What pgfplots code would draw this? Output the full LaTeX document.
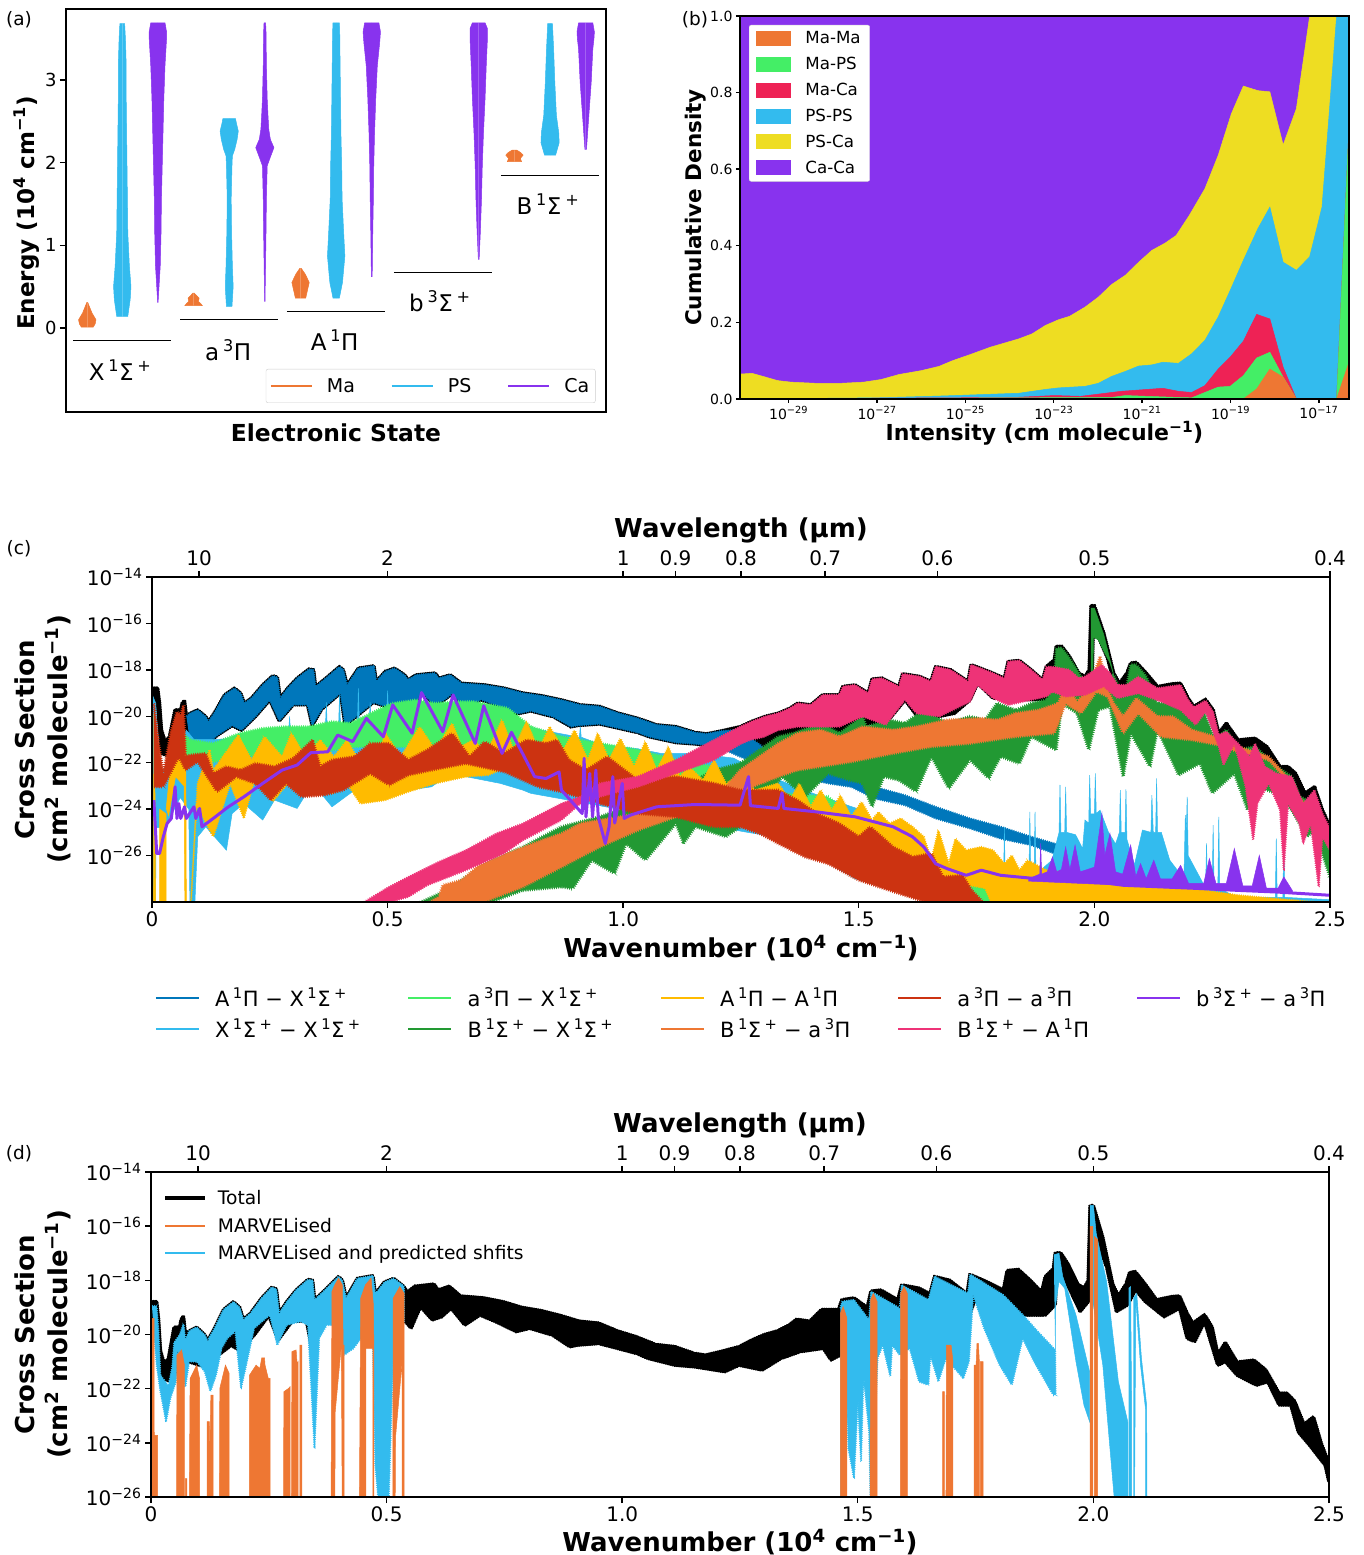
\documentclass[border=0pt]{standalone}
\usepackage{fontspec}
\setmainfont{DejaVu Sans}
\usepackage{pgfplots}
\usepackage{pgfplotstable}
\usetikzlibrary{decorations.pathmorphing}
\pgfplotsset{compat=1.18}
\definecolor{cOr}{HTML}{EE7733}
\definecolor{cLB}{HTML}{33BBEE}
\definecolor{cPu}{HTML}{8833EE}
\definecolor{cMag}{HTML}{EE3377}
\definecolor{cDB}{HTML}{0077BB}
\definecolor{cLG}{HTML}{44EE66}
\definecolor{cDG}{HTML}{229933}
\definecolor{cYe}{HTML}{FFBB00}
\definecolor{cRe}{HTML}{CC3311}
\definecolor{cY2}{HTML}{EEDD22}
\definecolor{cR2}{HTML}{EE2255}
\newcommand{\fs}[1]{\fontsize{#1}{#1}\selectfont}
\newcommand{\sq}[1]{\textsuperscript{#1}}
\pgfplotsset{
  table/lg/.style={row sep=\\,header=false,x index=0,y expr=10^(\thisrowno{1})},
  table/lx/.style={row sep=\\,header=false,x expr=10^(\thisrowno{0}),y index=1},
  band/.style={fill=#1,draw=#1,line width=0.5pt,forget plot},
  nb/.style 2 args={band=#1,decorate,decoration={zigzag,segment length=2.2pt,amplitude=#2}},
  base/.style={scale only axis,axis on top=true,axis line style={line width=2.2pt},
    tick style={black,line width=1.4pt},major tick length=6pt,tick align=outside,
    /pgf/number format/assume math mode=true,clip=true},
  specax/.style={base,width=1178pt,height=325pt,xmin=0,xmax=2.5,
    xtick={0,0.5,1,1.5,2,2.5},xticklabels={0,0.5,1.0,1.5,2.0,2.5},xticklabel style={font=\fs{20}},
    yticklabel style={font=\fs{20}},yminorticks=false,xtick pos=bottom,ytick pos=left,
    ylabel={\bfseries Cross Section\\\bfseries (cm\sq{2} molecule\sq{−1})},
    ylabel style={font=\fontsize{26}{33}\selectfont,align=center,anchor=center},xlabel style={font=\fs{26},anchor=center}},
  topax/.style={base,width=1178pt,height=325pt,xmin=0,xmax=2.5,ymin=0,ymax=1,axis x line*=top,axis y line=none,
    xtick={0.1,0.5,1,1.1111,1.25,1.4286,1.6667,2,2.5},xticklabels={10,2,1,0.9,0.8,0.7,0.6,0.5,0.4},
    xticklabel style={font=\fs{20},yshift=2pt},xlabel={\bfseries Wavelength (μm)},
    xlabel style={font=\fs{26},anchor=center,at={(axis description cs:0.5,1.142)}}},
  totalstyle/.style={fill=black,draw=black,line width=2.6pt,line join=round,forget plot,decorate,decoration={zigzag,segment length=2.2pt,amplitude=0.6pt}}
}
\newcommand{\violin}[3]{%
  \addplot[band=#2] table[row sep=\\,header=false,y index=0,x expr=#1+\thisrowno{1}/270.7]{#3};
  \addplot[band=#2] table[row sep=\\,header=false,y index=0,x expr=#1-\thisrowno{1}/270.7]{#3};
}
\pgfplotstableread[row sep=\\,header=false]{
0 -18.79\\ .012 -18.79\\ .016 -19.44\\ .02 -20.59\\ .028 -21.09\\ .037 -20.88\\ .049 -19.73\\ .061 -19.73\\ .064 -19.44\\ .069 -19.32\\ .073 -20.01\\ .081 -19.87\\ .097 -19.73\\ .114 -20.01\\ .12 -20.23\\ .134 -19.8\\ .154 -19.08\\ .175 -18.79\\ .188 -19\\ .196 -19.44\\ .211 -19.22\\ .235 -18.65\\ .256 -18.26\\ .266 -18.32\\ .272 -19.22\\ .288 -18.79\\ .308 -18.36\\ .333 -17.97\\ .343 -18\\ .347 -18.72\\ .365 -18.43\\ .398 -17.86\\ .406 -18\\ .414 -18.65\\ .438 -17.93\\ .471 -17.83\\ .476 -18.5\\ .495 -18.07\\ .515 -17.93\\ .536 -18.22\\ .544 -18.43\\ .56 -18.22\\ .601 -18.14\\ .609 -18.36\\ .633 -18.22\\ .657 -18.58\\ .706 -18.65\\ .747 -18.79\\ .787 -19\\ .828 -19.12\\ .869 -19.3\\ .909 -19.51\\ .95 -19.58\\ .99 -19.87\\ 1.031 -20.09\\ 1.071 -20.37\\ 1.112 -20.45\\ 1.153 -20.7\\ 1.177 -20.76\\ 1.209 -20.63\\ 1.248 -20.45\\
1.272 -20.23\\ 1.301 -20.01\\ 1.329 -19.87\\ 1.354 -19.65\\ 1.37 -19.44\\ 1.398 -19.51\\ 1.423 -19.08\\ 1.459 -19.08\\ 1.466 -18.72\\ 1.492 -18.65\\ 1.52 -19\\ 1.528 -18.4\\ 1.549 -18.36\\ 1.585 -18.72\\ 1.593 -18.17\\ 1.63 -18.29\\ 1.653 -18.5\\ 1.663 -17.86\\ 1.695 -18\\ 1.732 -18.5\\ 1.738 -17.78\\ 1.776 -18.07\\ 1.809 -18.36\\ 1.817 -17.64\\ 1.841 -17.6\\ 1.866 -18\\ 1.89 -18.43\\ 1.898 -17.86\\ 1.915 -17.57\\ 1.919 -16.99\\ 1.931 -16.99\\ 1.947 -17.42\\ 1.967 -18.14\\ 1.98 -18.29\\ 1.989 -18\\ 1.993 -15.24\\ 2.0 -15.24\\ 2.02 -16.42\\ 2.041 -18.14\\ 2.053 -18.58\\ 2.069 -18.14\\ 2.077 -17.71\\ 2.089 -17.68\\ 2.11 -18.14\\ 2.134 -18.72\\ 2.167 -18.6\\ 2.183 -18.58\\ 2.199 -19.22\\ 2.211 -19.58\\ 2.236 -19.27\\ 2.252 -19.73\\ 2.264 -20.73\\ 2.28 -20.3\\ 2.305 -21.02\\ 2.341 -20.95\\ 2.366 -21.31\\ 2.394 -22.17\\ 2.411 -22.17\\ 2.427 -22.46\\ 2.447 -23.32\\ 2.467 -23.04\\ 2.484 -24.04\\ 2.5 -24.76\\
2.5 -25.44\\ 2.492 -24.83\\ 2.459 -24.09\\ 2.435 -23.6\\ 2.419 -22.6\\ 2.394 -22.6\\ 2.37 -21.74\\ 2.346 -21.87\\ 2.305 -21.5\\ 2.28 -21\\ 2.264 -21.13\\ 2.236 -19.52\\ 2.215 -20.26\\ 2.199 -20.14\\ 2.183 -19.03\\ 2.15 -19.34\\ 2.11 -18.78\\ 2.089 -18.35\\ 2.073 -18.9\\ 2.049 -19.15\\ 2.028 -17.5\\ 2.008 -16.56\\ 1.997 -16.5\\ 1.995 -18.66\\ 1.972 -19.15\\ 1.935 -17.8\\ 1.922 -17.6\\ 1.919 -18.9\\ 1.898 -19.28\\ 1.854 -19.28\\ 1.817 -19.15\\ 1.785 -19.22\\ 1.752 -18.58\\ 1.736 -19.3\\ 1.703 -19.87\\ 1.671 -20\\ 1.622 -19.94\\ 1.598 -19.3\\ 1.555 -20.37\\ 1.524 -20.3\\ 1.467 -20.59\\ 1.463 -20.76\\ 1.443 -20.94\\ 1.427 -20.51\\ 1.378 -20.63\\ 1.337 -20.88\\ 1.297 -21.31\\ 1.248 -21.13\\
1.218 -21.37\\ 1.153 -21.19\\ 1.112 -21.13\\ 1.055 -20.88\\ 1.031 -20.7\\ .99 -20.51\\ .95 -20.33\\ .905 -20.39\\ .889 -20.45\\ .852 -20.02\\ .804 -19.77\\ .775 -19.89\\ .731 -19.52\\ .698 -19.28\\ .666 -19.65\\ .637 -19.03\\ .617 -19.34\\ .597 -19.46\\ .572 -18.97\\ .552 -19.77\\ .54 -19.52\\ .5 -19.6\\ .47 -19.4\\ .44 -19.9\\ .41 -20.4\\ .40 -19\\ .36 -19.7\\ .34 -20.4\\ .33 -19.5\\ .3 -19.5\\ .27 -20.2\\ .25 -19.3\\ .22 -20\\ .19 -20.6\\ .17 -20.4\\ .14 -20.8\\ .115 -21.2\\ .08 -21\\ .07 -20.9\\ .06 -20.9\\ .05 -21.5\\ .035 -21.7\\ .02 -21.6\\ .012 -19.6\\ 0 -19.6\\
}\TotalBand
\begin{document}
\begin{tikzpicture}[x=1pt,y=1pt]
\path[use as bounding box] (0,0) rectangle (1363,1555);
% ---------- panel a
\begin{axis}[base,at={(66pt,1143pt)},anchor=south west,width=540pt,height=403pt,
  xmin=-0.526,xmax=4.523,ymin=-1.016,ymax=3.857,xtick=\empty,ytick={0,1,2,3},
  yticklabel style={font=\fs{18}},ytick pos=left,
  xlabel={\bfseries Electronic State},xlabel style={font=\fs{23.4},anchor=center,at={(axis description cs:0.5,-0.052)}},
  ylabel={\bfseries Energy (10\sq{4} cm\sq{−1})},ylabel style={font=\fs{23},anchor=center,at={(axis description cs:-0.0722,0.494)}},
  legend columns=3,legend cell align=left,
  legend image code/.code={\draw[#1,line width=1.5pt] (0pt,0pt)--(41pt,0pt);\path (54pt,0pt);},
  legend style={at={(axis description cs:0.37,0.1067)},anchor=north west,draw=black!20,rounded corners=2pt,font=\fs{19},
    inner xsep=4pt,inner ysep=7pt,/tikz/every even column/.append style={column sep=34pt}}]
\violin{-0.327}{cOr}{0.01 0\\0.01 15\\0.05 20\\0.1 22\\0.18 12\\0.31 1\\0.31 0\\}
\violin{0}{cLB}{0.14 0\\0.14 14\\0.34 20\\0.5 22\\0.75 18\\1.15 14\\1.56 13\\1.96 12\\2.36 11\\2.77 10\\3.17 10\\3.5 8\\3.68 6\\3.68 0\\}
\violin{0.333}{cPu}{0.31 0\\0.31 0.5\\0.75 6\\1.15 8\\1.56 9\\1.96 11\\2.36 13\\2.77 15\\3.17 18\\3.5 22\\3.58 22\\3.69 18\\3.69 0\\}
\violin{0.667}{cOr}{0.27 0\\0.27 22\\0.295 18\\0.32 12\\0.36 14\\0.42 2\\0.42 0\\}
\violin{1}{cLB}{0.26 0\\0.26 7\\0.5 10\\0.75 8\\1.15 6\\1.56 5\\1.96 7\\2.08 8\\2.16 14\\2.28 20\\2.38 23\\2.48 18\\2.53 16\\2.53 0\\}
\violin{1.333}{cPu}{0.32 0\\0.32 0.5\\1.15 3\\1.56 4\\1.96 6\\2.04 12\\2.18 23\\2.28 14\\2.4 10\\2.57 8\\2.77 6\\3.17 4\\3.58 3\\3.69 2\\3.69 0\\}
\violin{1.667}{cOr}{0.36 0\\0.36 13\\0.55 22\\0.65 12\\0.72 2\\0.72 0\\}
\violin{2}{cLB}{0.36 0\\0.36 8\\0.55 16\\0.87 22\\1.15 19\\1.56 15\\1.96 14\\2.36 12\\2.77 11\\3.17 10\\3.58 9\\3.69 8\\3.69 0\\}
\violin{2.333}{cPu}{0.62 0\\0.62 1\\1.15 2.5\\1.56 4\\1.96 5\\2.36 7\\2.77 10\\3.17 14\\3.45 20\\3.58 22\\3.69 18\\3.69 0\\}
\violin{3.333}{cPu}{0.83 0\\0.83 1\\1.15 4\\1.56 7\\1.96 9\\2.36 12\\2.77 16\\3.17 19\\3.5 22\\3.62 22\\3.69 16\\3.69 0\\}
\violin{3.667}{cOr}{2.01 0\\2.01 18\\2.05 15\\2.09 22\\2.12 16\\2.15 6\\2.15 0\\}
\violin{4}{cLB}{2.09 0\\2.09 14\\2.24 23\\2.36 22\\2.57 16\\2.97 12\\3.37 9\\3.68 6\\3.68 0\\}
\violin{4.333}{cPu}{2.16 0\\2.16 2\\2.57 8\\2.97 14\\3.37 18\\3.5 21\\3.58 22\\3.69 18\\3.69 0\\}
\addplot[black,line width=1.2pt,forget plot] coordinates {(-0.46,-0.15)(0.46,-0.15)};
\addplot[black,line width=1.2pt,forget plot] coordinates {(0.54,0.10)(1.46,0.10)};
\addplot[black,line width=1.2pt,forget plot] coordinates {(1.54,0.20)(2.46,0.20)};
\addplot[black,line width=1.2pt,forget plot] coordinates {(2.54,0.67)(3.46,0.67)};
\addplot[black,line width=1.2pt,forget plot] coordinates {(3.54,1.84)(4.46,1.84)};
\node[font=\fs{23}] at (axis cs:-0.02,-0.51) {X\,\sq{1}Σ\,\sq{+}};
\node[font=\fs{23}] at (axis cs:0.99,-0.266) {a\,\sq{3}Π};
\node[font=\fs{23}] at (axis cs:1.985,-0.15) {A\,\sq{1}Π};
\node[font=\fs{23}] at (axis cs:2.97,0.32) {b\,\sq{3}Σ\,\sq{+}};
\node[font=\fs{23}] at (axis cs:3.98,1.50) {B\,\sq{1}Σ\,\sq{+}};
\addlegendimage{draw=cOr}\addlegendentry{Ma}
\addlegendimage{draw=cLB}\addlegendentry{PS}
\addlegendimage{draw=cPu}\addlegendentry{Ca\hspace{7pt}}
\end{axis}
% ---------- panel b
\begin{axis}[base,at={(740pt,1156pt)},anchor=south west,width=609pt,height=383pt,
  xmode=log,xmin=7.94e-31,xmax=4.79e-17,ymin=0,ymax=1,xminorticks=false,
  xtick={1e-29,1e-27,1e-25,1e-23,1e-21,1e-19,1e-17},
  xticklabels={10\sq{−29},10\sq{−27},10\sq{−25},10\sq{−23},10\sq{−21},10\sq{−19},10\sq{−17}},
  ytick={0,0.2,0.4,0.6,0.8,1},yticklabels={0.0,0.2,0.4,0.6,0.8,1.0},
  ticklabel style={font=\fs{14}},xtick pos=bottom,ytick pos=left,major tick length=4pt,
  xlabel={\bfseries Intensity (cm molecule\sq{−1})},xlabel style={font=\fs{22},anchor=center,at={(axis description cs:0.5,-0.089)}},
  ylabel={\bfseries Cumulative Density},ylabel style={font=\fs{21.5},anchor=center,at={(axis description cs:-0.0722,0.5)}},
  legend cell align=left,
  legend image code/.code={\fill[sharp corners,draw=none,#1] (0pt,-7.5pt) rectangle (35pt,7.5pt);\path (47pt,0pt);},
  legend style={at={(axis description cs:0.0148,0.9765)},anchor=north west,draw=black!15,rounded corners=2pt,font=\fs{16.7},
    inner xsep=7pt,inner ysep=4.5pt,row sep=8pt}]
\addplot[band=cPu] table[lx]{-30.1 0\\-30.1 1\\-16.32 1\\-16.32 0\\};
\addplot[band=cY2] table[lx]{-30.1 0\\-30.1 .065\\-29.83 .067\\-29.55 .058\\-29.25 .048\\-28.95 .044\\-28.4 .041\\-27.8 .041\\-27.3 .044\\-26.9 .051\\-26.5 .064\\-26 .074\\-25.6 .085\\-25.29 .1\\-24.89 .116\\-24.44 .135\\-23.79 .157\\-23.49 .17\\-23.19 .192\\-22.89 .207\\-22.64 .216\\-22.29 .24\\-21.99 .266\\-21.69 .299\\-21.38 .323\\-21.08 .357\\-20.78 .388\\-20.48 .407\\-20.23 .427\\-19.93 .48\\-19.58 .549\\-19.28 .636\\-18.98 .745\\-18.71 .817\\-18.38 .805\\-18.11 .802\\-17.81 .663\\-17.51 .758\\-17.21 1\\-16.32 1\\-16.32 0\\};
\addplot[band=cLB] table[lx]{-30.1 0\\-27 .003\\-25.49 .008\\-23.79 .015\\-23.19 .025\\-22.89 .029\\-22.29 .033\\-21.99 .041\\-21.69 .059\\-21.38 .072\\-21.08 .086\\-20.78 .089\\-20.53 .096\\-20.18 .093\\-19.88 .118\\-19.58 .153\\-19.28 .214\\-19.01 .283\\-18.71 .362\\-18.38 .445\\-18.11 .501\\-17.81 .357\\-17.51 .336\\-17.21 .371\\-16.93 .501\\-16.6 1\\-16.32 1\\-16.32 0\\};
\addplot[band=cR2] table[lx]{-30.1 0\\-23.89 .004\\-22.99 .009\\-22.39 .007\\-21.48 .02\\-20.53 .028\\-20.18 .02\\-19.88 .017\\-19.58 .035\\-19.28 .078\\-19.01 .109\\-18.71 .151\\-18.41 .221\\-18.11 .209\\-17.81 .083\\-17.51 0\\-16.6 0\\-16.32 .71\\-16.32 0\\};
\addplot[band=cLG] table[lx]{-30.1 0\\-21.69 .004\\-21.38 .009\\-20.18 .004\\-19.88 .003\\-19.58 .017\\-19.28 .031\\-19.01 .033\\-18.71 .061\\-18.41 .107\\-18.11 .122\\-17.81 .057\\-17.51 0\\-16.6 0\\-16.32 .71\\-16.32 0\\};
\addplot[band=cOr] table[lx]{-30.1 0\\-18.71 0\\-18.41 .026\\-18.11 .078\\-17.81 .057\\-17.51 0\\-16.6 0\\-16.32 .096\\-16.32 0\\};
\addlegendimage{fill=cOr}\addlegendentry{Ma-Ma}
\addlegendimage{fill=cLG}\addlegendentry{Ma-PS}
\addlegendimage{fill=cR2}\addlegendentry{Ma-Ca}
\addlegendimage{fill=cLB}\addlegendentry{PS-PS}
\addlegendimage{fill=cY2}\addlegendentry{PS-Ca}
\addlegendimage{fill=cPu}\addlegendentry{Ca-Ca}
\end{axis}
% ---------- panel c
\begin{axis}[specax,ymode=log,at={(152pt,653pt)},anchor=south west,ymin=1e-28,ymax=1e-14,
  xlabel={\bfseries Wavenumber (10\sq{4} cm\sq{−1})},
  ytick={1e-14,1e-16,1e-18,1e-20,1e-22,1e-24,1e-26},
  yticklabels={10\sq{−14},10\sq{−16},10\sq{−18},10\sq{−20},10\sq{−22},10\sq{−24},10\sq{−26}},
  xlabel style={at={(axis description cs:0.5,-0.1415)}},ylabel style={at={(axis description cs:-0.0925,0.5)}},
  legend columns=5,legend cell align=left,
  legend image code/.code={\draw[#1,line width=1.5pt] (0pt,0pt)--(43pt,0pt);\path (57pt,0pt);},
  legend style={at={(axis description cs:0.0025,-0.261)},anchor=north west,draw=none,fill=none,font=\fs{21},
    inner xsep=0pt,inner ysep=0pt,nodes={inner ysep=1pt},row sep=9pt,/tikz/every even column/.append style={column sep=45pt}}]
\addplot[totalstyle] table[lg]{\TotalBand};
% A-X
\addplot[nb={cDB}{0.8pt}] table[lg]{.073 -20.01\\ .081 -19.87\\ .097 -19.73\\ .114 -20.01\\ .12 -20.23\\ .134 -19.8\\ .154 -19.08\\ .175 -18.79\\ .188 -19\\ .196 -19.44\\ .211 -19.22\\ .235 -18.65\\ .256 -18.26\\ .266 -18.32\\ .272 -19.22\\ .288 -18.79\\ .308 -18.36\\ .333 -17.97\\ .343 -18\\ .347 -18.72\\ .365 -18.43\\ .398 -17.86\\ .406 -18\\ .414 -18.65\\ .438 -17.93\\ .471 -17.83\\ .476 -18.5\\ .495 -18.07\\ .515 -17.93\\ .536 -18.22\\ .544 -18.43\\ .56 -18.22\\ .601 -18.14\\ .609 -18.36\\ .633 -18.22\\ .657 -18.58\\ .706 -18.65\\ .747 -18.79\\ .787 -19\\ .828 -19.12\\ .869 -19.3\\ .909 -19.51\\ .95 -19.58\\ .99 -19.87\\ 1.031 -20.09\\ 1.071 -20.37\\ 1.112 -20.45\\ 1.153 -20.7\\ 1.177 -20.76\\ 1.209 -20.63\\ 1.248 -20.59\\ 1.305 -21.45\\ 1.402 -22.32\\ 1.435 -22.46\\ 1.484 -22.68\\ 1.533 -23.04\\ 1.598 -23.4\\ 1.663 -23.9\\ 1.736 -24.4\\ 1.801 -24.76\\ 1.866 -25.19\\ 1.915 -25.48\\ 1.972 -25.91\\ 2.061 -26.63\\ 2.142 -27.5\\ 2.224 -27.9\\ 2.224 -28.2\\ 2.142 -27.93\\ 2.061 -26.85\\ 1.972 -26.27\\ 1.915 -25.91\\ 1.866 -25.55\\ 1.801 -25.27\\ 1.736 -24.83\\ 1.663 -24.4\\ 1.598 -23.83\\ 1.533 -23.54\\ 1.484 -23.04\\ 1.435 -22.89\\ 1.402 -22.75\\ 1.305 -22.17\\ 1.248 -21.74\\ 1.2 -21.3\\ 1.153 -21.19\\ 1.112 -21.13\\ 1.055 -20.88\\ 1.031 -20.7\\ .99 -20.51\\ .95 -20.33\\ .905 -20.39\\ .889 -20.45\\ .852 -20.02\\ .804 -19.77\\ .775 -19.89\\ .731 -19.52\\ .698 -19.28\\ .666 -19.65\\ .637 -19.03\\ .617 -19.34\\ .597 -19.46\\ .572 -18.97\\ .552 -19.77\\ .54 -19.52\\ .5 -19.6\\ .47 -19.4\\ .44 -19.9\\ .41 -20.4\\ .40 -19\\ .36 -19.7\\ .34 -20.4\\ .33 -19.5\\ .3 -19.5\\ .27 -20.2\\ .25 -19.3\\ .22 -20\\ .19 -20.6\\ .17 -20.4\\ .14 -20.8\\ .115 -21.2\\ .08 -21\\};
% X-X
\addplot[band=cLB] table[lg]{0 -19.04\\ .008 -19.44\\ .016 -22.32\\ .024 -22.32\\ .057 -21.02\\ .073 -20.6\\ .089 -21\\ .138 -21\\ .195 -20.9\\ .235 -20.7\\ .29 -20.7\\ .292 -20\\ .294 -20.7\\ .33 -20.6\\ .368 -20.5\\ .37 -19.4\\ .372 -20.5\\ .396 -20.4\\ .398 -19.1\\ .4 -20.4\\ .436 -20.3\\ .438 -18.8\\ .44 -20.3\\ .461 -20.2\\ .463 -19.4\\ .465 -20.2\\ .498 -20\\ .5 -18.9\\ .502 -20\\ .54 -20\\ .6 -19.9\\ .68 -20\\ .755 -20.2\\ .828 -20.6\\ .907 -20.9\\ .909 -20.45\\ .911 -20.9\\ .95 -21.2\\ 1.031 -21.4\\ 1.08 -21.6\\ 1.153 -21.6\\ 1.234 -21.8\\ 1.3 -22.5\\ 1.4 -23.3\\ 1.5 -24\\ 1.55 -25\\ 1.55 -26\\ 1.7 -27.6\\ 1.8 -27.6\\ 1.807 -27.4\\ 1.809 -24.76\\ 1.811 -27.4\\ 1.83 -27\\ 1.861 -27\\ 1.863 -24.12\\ 1.865 -27\\ 1.872 -27\\ 1.874 -24.12\\ 1.876 -26.8\\ 1.91 -26.2\\ 1.925 -25\\ 1.927 -22.96\\ 1.929 -25\\ 1.937 -25\\ 1.939 -23.04\\ 1.941 -25\\ 1.96 -25.1\\ 1.975 -25.7\\ 1.98 -24.47\\ 1.988 -24.6\\ 1.99 -22.53\\ 1.992 -24.2\\ 2.0 -24.2\\ 2.002 -22.46\\ 2.004 -24.2\\ 2.012 -24.04\\ 2.03 -25\\ 2.045 -25.5\\ 2.053 -25\\ 2.055 -23.18\\ 2.057 -25\\ 2.065 -25\\ 2.067 -23.15\\ 2.069 -25.3\\ 2.085 -26.4\\ 2.102 -24.9\\ 2.12 -25\\ 2.122 -23.4\\ 2.125 -25\\ 2.13 -25\\ 2.132 -22.68\\ 2.134 -25\\ 2.142 -25\\ 2.16 -26.2\\ 2.19 -27\\ 2.193 -24.26\\ 2.195 -25\\ 2.197 -23.47\\ 2.199 -26\\ 2.236 -27.4\\ 2.238 -25.48\\ 2.24 -27.4\\ 2.25 -27.4\\ 2.252 -24.69\\ 2.254 -27.4\\ 2.262 -27.4\\ 2.264 -24.33\\ 2.266 -27.4\\ 2.3 -27.8\\ 2.384 -27.8\\ 2.386 -25.27\\ 2.388 -27.8\\ 2.4 -27.8\\ 2.402 -25.19\\ 2.404 -27.8\\ 2.5 -27.9\\ 2.5 -29\\ 1.663 -29\\ 1.663 -28\\ 1.492 -27\\ 1.402 -25.91\\ 1.354 -25.3\\ 1.264 -25\\ .804 -23.32\\ .787 -23.18\\ .739 -22.89\\ .666 -22.6\\ .625 -22.6\\ .593 -23.04\\ .544 -23.18\\ .495 -23.18\\ .43 -23.18\\ .382 -23.9\\ .341 -22.89\\ .308 -23.97\\ .26 -23.61\\ .235 -24.47\\ .195 -23.76\\ .17 -24.19\\ .158 -25.77\\ .114 -24.76\\ .097 -25.19\\ .089 -29\\ .081 -29\\ .078 -24\\ .06 -23.5\\ .03 -24.7\\ .016 -24.8\\ .009 -24.8\\ .007 -29\\ 0 -29\\};
% a-X
\addplot[nb={cLG}{1.2pt}] table[lg]{.032 -21.88\\ .057 -20.59\\ .081 -21.02\\ .13 -21.17\\ .187 -20.73\\ .235 -20.52\\ .284 -20.45\\ .333 -20.45\\ .382 -20.23\\ .422 -20.3\\ .479 -19.73\\ .511 -19.44\\ .56 -19.3\\ .601 -19.44\\ .649 -19.37\\ .682 -19.37\\ .755 -19.65\\ .804 -20.45\\ .869 -20.88\\ .95 -21.17\\ 1.031 -21.45\\ 1.112 -21.88\\ 1.193 -22.17\\ 1.248 -22.6\\ 1.329 -23.32\\ 1.435 -23.47\\ 1.533 -25.19\\ 1.614 -25.48\\ 1.671 -26.35\\ 1.736 -26.92\\ 1.776 -27.5\\ 1.817 -28.1\\ 1.736 -28.1\\ 1.671 -27.5\\ 1.622 -26.78\\ 1.557 -26.2\\ 1.476 -25.99\\ 1.411 -25.34\\ 1.329 -25.05\\ 1.248 -24.33\\ 1.193 -23.18\\ 1.112 -22.89\\ 1.031 -22.46\\ .95 -22.32\\ .828 -22.17\\ .755 -21.45\\ .682 -21.53\\ .649 -21.45\\ .544 -21.31\\ .495 -21.31\\ .43 -21.31\\ .382 -21.45\\ .3 -21.88\\ .235 -21.67\\ .187 -21.74\\ .13 -21.96\\ .081 -21.74\\ .057 -22.17\\ .032 -22.6\\};
% B-X
\addplot[nb={cDG}{1.3pt}] table[lg]{.56 -28.1\\ .625 -27.5\\ .706 -26.35\\ .787 -25.63\\ .869 -24.76\\ .95 -24.33\\ 1.031 -23.76\\ 1.112 -23.18\\ 1.193 -22.32\\ 1.248 -22.03\\ 1.329 -20.88\\ 1.362 -20.73\\ 1.419 -20.3\\ 1.459 -20.73\\ 1.508 -20.01\\ 1.516 -20.45\\ 1.565 -20.16\\ 1.598 -20.3\\ 1.638 -19.73\\ 1.687 -20.3\\ 1.736 -20.01\\ 1.768 -20.16\\ 1.793 -19.44\\ 1.833 -19.73\\ 1.866 -19.44\\ 1.898 -19.3\\ 1.915 -18.72\\ 1.919 -17.06\\ 1.931 -17.06\\ 1.947 -17.5\\ 1.967 -18.14\\ 1.98 -18.58\\ 1.989 -18.29\\ 2.041 -18.22\\ 2.053 -18.86\\ 2.069 -18.72\\ 2.077 -17.78\\ 2.089 -17.78\\ 2.11 -18.29\\ 2.134 -19.44\\ 2.167 -19.44\\ 2.199 -20.01\\ 2.232 -19.8\\ 2.256 -21.02\\ 2.28 -20.59\\ 2.305 -21.45\\ 2.341 -21.31\\ 2.386 -22.17\\ 2.419 -22.6\\ 2.435 -23.47\\ 2.467 -23.76\\ 2.5 -25.19\\ 2.5 -26.92\\ 2.467 -24.91\\ 2.451 -25.19\\ 2.419 -24.04\\ 2.386 -23.32\\ 2.346 -23.04\\ 2.325 -24.04\\ 2.297 -22.46\\ 2.25 -23.32\\ 2.224 -22.03\\ 2.179 -22.53\\ 2.134 -20.59\\ 2.118 -22.17\\ 2.077 -20.73\\ 2.061 -22.6\\ 2.033 -19.58\\ 2.008 -19.73\\ 1.988 -21.45\\ 1.963 -19.87\\ 1.931 -19.44\\ 1.919 -21.45\\ 1.866 -20.88\\ 1.841 -22.03\\ 1.801 -21.74\\ 1.776 -22.68\\ 1.736 -21.88\\ 1.691 -23.11\\ 1.654 -21.74\\ 1.622 -23.25\\ 1.585 -22.75\\ 1.553 -22.6\\ 1.528 -23.9\\ 1.508 -22.89\\ 1.48 -22.75\\ 1.435 -22.46\\ 1.386 -23.47\\ 1.337 -22.6\\ 1.289 -23.9\\ 1.248 -24.76\\ 1.218 -25.19\\ 1.153 -24.76\\ 1.128 -25.48\\ 1.112 -24.62\\ 1.047 -26.2\\ 1.006 -25.48\\ .982 -26.78\\ .933 -26.2\\ .893 -27.42\\ .869 -27.35\\ .787 -27.5\\ .706 -28.1\\};
\addplot[band=cDG] table[lg]{1.993 -18.2\\ 1.993 -15.34\\ 2.0 -15.34\\ 2.02 -16.49\\ 2.041 -18.22\\ 2.033 -17.7\\ 2.02 -17.2\\ 2.008 -16.7\\ 1.998 -16.6\\ 1.997 -18.2\\};
% A-A
\addplot[band=cYe] table[lg]{.003 -29\\ .004 -19.87\\ .006 -22\\ .008 -29\\};
\addplot[band=cYe] table[lg]{.016 -29\\ .016 -24\\ .03 -24.2\\ .03 -29\\};
\addplot[band=cYe] table[lg]{.03 -24\\ .041 -21.74\\ .057 -20.45\\ .069 -20.59\\ .072 -22.6\\ .073 -29\\ .07 -29\\ .068 -23\\ .05 -22.6\\ .035 -24.3\\};
\addplot[nb={cYe}{0.8pt}] table[lg]{.08 -29\\ .097 -22.89\\ .122 -21.45\\ .13 -22.32\\ .183 -20.81\\ .211 -21.88\\ .239 -20.88\\ .276 -21.74\\ .296 -20.73\\ .325 -21.74\\ .357 -21.02\\ .386 -21.74\\ .414 -21.02\\ .438 -21.88\\ .463 -21.17\\ .479 -21.88\\ .495 -20.73\\ .528 -21.74\\ .568 -20.45\\ .601 -21.45\\ .637 -20.3\\ .657 -21.3\\ .682 -21.02\\ .71 -21.6\\ .743 -20.16\\ .767 -21.45\\ .795 -20.23\\ .82 -21.45\\ .844 -20.45\\ .873 -21.45\\ .897 -20.59\\ .925 -21.88\\ .946 -20.73\\ .97 -21.88\\ .994 -20.95\\ 1.023 -22.17\\ 1.047 -21.09\\ 1.071 -22.32\\ 1.096 -21.31\\ 1.12 -22.6\\ 1.14 -22.17\\ 1.169 -22.75\\ 1.193 -21.88\\ 1.218 -22.89\\ 1.248 -22.6\\ 1.28 -23.18\\ 1.329 -22.89\\ 1.354 -23.61\\ 1.374 -22.89\\ 1.398 -23.9\\ 1.419 -23.18\\ 1.443 -24.04\\ 1.461 -23.4\\ 1.484 -24.33\\ 1.506 -23.68\\ 1.528 -24.47\\ 1.542 -24.12\\ 1.565 -24.62\\ 1.589 -24.4\\ 1.614 -24.76\\ 1.638 -25.19\\ 1.654 -26.2\\ 1.669 -24.91\\ 1.691 -26.35\\ 1.705 -25.27\\ 1.728 -25.77\\ 1.76 -25.63\\ 1.785 -25.77\\ 1.809 -26.35\\ 1.825 -25.99\\ 1.841 -26.63\\ 1.858 -26.2\\ 1.898 -26.63\\ 2.061 -27.06\\ 2.183 -27.35\\ 2.305 -27.71\\ 2.386 -27.86\\ 2.467 -28\\ 2.5 -28.2\\ 2.5 -29\\ 1.801 -29\\ 1.768 -27.4\\ 1.654 -27\\ 1.533 -25.91\\ 1.411 -25\\ 1.248 -24.3\\ 1.193 -24\\ .95 -23.2\\ .869 -22.6\\ .787 -22.17\\ .755 -22.17\\ .714 -22.53\\ .666 -22.6\\ .601 -22.89\\ .544 -23.25\\ .495 -23.61\\ .442 -23.76\\ .414 -22.89\\ .382 -23.32\\ .365 -22.6\\ .3 -22.6\\ .256 -23.68\\ .219 -22.6\\ .195 -24.4\\ .166 -22.89\\ .13 -25.19\\ .093 -23.76\\};
% B-a
\addplot[nb={cOr}{1.2pt}] table[lg]{.58 -28.1\\ .609 -27.78\\ .617 -27.28\\ .657 -27.06\\ .694 -26.42\\ .763 -25.84\\ .828 -25.34\\ .869 -25.05\\ .909 -24.62\\ 1.031 -24.19\\ 1.071 -23.9\\ 1.153 -23.47\\ 1.218 -23.04\\ 1.248 -22.32\\ 1.329 -21.17\\ 1.37 -20.73\\ 1.419 -20.59\\ 1.459 -20.88\\ 1.508 -20.45\\ 1.573 -20.59\\ 1.622 -20.45\\ 1.687 -20.16\\ 1.76 -20.09\\ 1.793 -20.16\\ 1.833 -19.87\\ 1.882 -19.73\\ 1.923 -19.44\\ 1.939 -18.65\\ 1.963 -19.37\\ 1.988 -18.86\\ 2.012 -17.42\\ 2.024 -18.65\\ 2.041 -19.44\\ 2.061 -20.01\\ 2.089 -19.22\\ 2.134 -20.01\\ 2.167 -20.01\\ 2.207 -20.59\\ 2.256 -20.88\\ 2.305 -21.31\\ 2.37 -21.74\\ 2.402 -22.46\\ 2.435 -23.47\\ 2.484 -24.76\\ 2.5 -25.48\\ 2.5 -25.63\\ 2.484 -24.91\\ 2.435 -23.61\\ 2.402 -22.6\\ 2.37 -21.88\\ 2.305 -21.53\\ 2.264 -21.24\\ 2.207 -21.02\\ 2.142 -20.88\\ 2.093 -19.87\\ 2.061 -20.73\\ 2.028 -19.15\\ 2.004 -18.94\\ 1.972 -19.87\\ 1.939 -19.44\\ 1.915 -20.73\\ 1.833 -20.88\\ 1.736 -21.17\\ 1.654 -21.31\\ 1.573 -21.6\\ 1.484 -21.96\\ 1.37 -22.32\\ 1.329 -22.6\\ 1.248 -23.25\\ 1.112 -24.33\\ 1.031 -24.91\\ .95 -25.63\\ .869 -26.49\\ .787 -27.35\\ .69 -28.1\\};
% a-a
\addplot[nb={cRe}{1.2pt}] table[lg]{.004 -19.44\\ .012 -20.88\\ .024 -22.46\\ .041 -20.59\\ .053 -19.8\\ .061 -19.94\\ .067 -19.51\\ .071 -21.74\\ .081 -21.67\\ .114 -21.6\\ .13 -22.46\\ .158 -22.17\\ .187 -22.32\\ .219 -22.03\\ .26 -22.17\\ .3 -21.81\\ .341 -21.02\\ .357 -22.17\\ .382 -21.88\\ .43 -21.74\\ .463 -21.17\\ .503 -21.17\\ .544 -21.88\\ .584 -21.45\\ .637 -20.73\\ .674 -21.74\\ .706 -21.09\\ .747 -21.6\\ .795 -21.02\\ .836 -21.17\\ .86 -21.02\\ .885 -21.88\\ .921 -22.32\\ .966 -21.74\\ 1.031 -22.75\\ 1.112 -22.6\\ 1.193 -22.89\\ 1.248 -23.18\\ 1.297 -23.18\\ 1.329 -23.18\\ 1.37 -23.61\\ 1.411 -24.19\\ 1.459 -24.62\\ 1.5 -25.19\\ 1.524 -24.76\\ 1.541 -25.05\\ 1.573 -25.63\\ 1.614 -26.06\\ 1.654 -25.91\\ 1.679 -26.92\\ 1.72 -26.85\\ 1.74 -27.5\\ 1.768 -28.1\\ 1.663 -28.1\\ 1.63 -27.93\\ 1.565 -27.5\\ 1.5 -27.06\\ 1.435 -26.35\\ 1.386 -26.06\\ 1.329 -25.48\\ 1.289 -25.05\\ 1.248 -24.76\\ 1.193 -24.76\\ 1.112 -24.33\\ 1.031 -24.19\\ .95 -23.76\\ .869 -23.25\\ .82 -23.04\\ .747 -22.39\\ .666 -22.03\\ .593 -22.32\\ .544 -22.53\\ .503 -22.96\\ .463 -22.46\\ .406 -23.18\\ .365 -23.4\\ .317 -23.47\\ .284 -22.89\\ .252 -23.61\\ .219 -22.89\\ .179 -22.6\\ .138 -23.25\\ .097 -21.96\\ .071 -22.32\\ .057 -21.74\\ .024 -23.04\\ .004 -23.04\\};
% B-A
\addplot[nb={cMag}{0.8pt}] table[lg]{.442 -28.1\\ .503 -27.35\\ .544 -26.92\\ .609 -26.27\\ .666 -25.77\\ .731 -25.05\\ .787 -24.62\\ .869 -23.76\\ .909 -23.47\\ .95 -22.89\\ 1.031 -22.6\\ 1.112 -21.88\\ 1.193 -21.02\\ 1.248 -20.45\\ 1.272 -20.23\\ 1.301 -20.01\\ 1.329 -19.87\\ 1.354 -19.65\\ 1.37 -19.44\\ 1.398 -19.51\\ 1.423 -19.08\\ 1.459 -19.08\\ 1.466 -18.72\\ 1.492 -18.65\\ 1.52 -19\\ 1.528 -18.4\\ 1.549 -18.36\\ 1.585 -18.72\\ 1.593 -18.17\\ 1.63 -18.29\\ 1.653 -18.5\\ 1.663 -17.86\\ 1.695 -18\\ 1.732 -18.5\\ 1.738 -17.78\\ 1.776 -18.07\\ 1.809 -18.36\\ 1.817 -17.64\\ 1.841 -17.6\\ 1.866 -18\\ 1.89 -18.43\\ 1.898 -17.86\\ 1.915 -17.88\\ 1.947 -18\\ 1.967 -18.36\\ 1.98 -18.29\\ 1.996 -18.07\\ 2.016 -17.78\\ 2.033 -18.14\\ 2.049 -18.65\\ 2.069 -18.65\\ 2.093 -18.29\\ 2.11 -18.5\\ 2.134 -18.79\\ 2.183 -18.65\\ 2.199 -19.3\\ 2.211 -19.61\\ 2.236 -19.32\\ 2.252 -19.8\\ 2.264 -20.81\\ 2.28 -20.66\\ 2.305 -21.17\\ 2.329 -21.74\\ 2.341 -21.17\\ 2.362 -22.17\\ 2.386 -22.46\\ 2.419 -22.6\\ 2.443 -23.76\\ 2.467 -23.18\\ 2.484 -24.19\\ 2.5 -24.83\\ 2.5 -25.77\\ 2.484 -25.19\\ 2.476 -27.35\\ 2.459 -24.62\\ 2.443 -25.48\\ 2.435 -24.62\\ 2.411 -23.76\\ 2.402 -26.63\\ 2.394 -24.04\\ 2.37 -22.89\\ 2.346 -23.76\\ 2.337 -25.34\\ 2.321 -23.04\\ 2.297 -21.17\\ 2.274 -22.1\\ 2.264 -21.31\\ 2.236 -19.8\\ 2.215 -20.37\\ 2.183 -19.73\\ 2.142 -19.37\\ 2.093 -19.01\\ 2.049 -19.22\\ 2.02 -18.72\\ 1.98 -19.08\\ 1.939 -19.15\\ 1.911 -18.94\\ 1.898 -19.15\\ 1.817 -19.51\\ 1.785 -19.22\\ 1.752 -18.65\\ 1.736 -19.37\\ 1.671 -20.01\\ 1.622 -19.87\\ 1.598 -19.3\\ 1.557 -20.37\\ 1.508 -20.01\\ 1.459 -20.45\\ 1.37 -20.45\\ 1.329 -20.6\\ 1.297 -20.9\\ 1.272 -21\\ 1.248 -21.2\\ 1.193 -21.88\\ 1.112 -22.46\\ 1.031 -23.04\\ .99 -23.25\\ .95 -23.47\\ .909 -23.76\\ .869 -24.47\\ .787 -25.34\\ .747 -25.91\\ .666 -26.63\\ .584 -27.28\\ .544 -27.78\\ .487 -28.1\\};
% b-a
\addplot[band=cPu] table[lg]{1.86 -27\\ 1.884 -26.8\\ 1.886 -25.48\\ 1.888 -26.8\\ 1.9 -26.7\\ 1.911 -26.06\\ 1.92 -26.7\\ 1.93 -26.6\\ 1.939 -25.63\\ 1.948 -26.6\\ 1.959 -25.55\\ 1.97 -26.7\\ 2.0 -26.5\\ 2.016 -24.19\\ 2.022 -26\\ 2.033 -25.05\\ 2.045 -26.7\\ 2.06 -26.8\\ 2.077 -25.55\\ 2.088 -26.9\\ 2.098 -26.35\\ 2.11 -27\\ 2.126 -26.2\\ 2.14 -27\\ 2.165 -27\\ 2.183 -26.42\\ 2.2 -27.2\\ 2.232 -27.2\\ 2.244 -26.13\\ 2.258 -27.2\\ 2.28 -27.2\\ 2.297 -25.7\\ 2.315 -27.3\\ 2.335 -27.3\\ 2.35 -25.99\\ 2.365 -27.4\\ 2.39 -27.4\\ 2.402 -26.92\\ 2.42 -27.5\\ 2.42 -27.6\\ 1.86 -27.1\\};
\addplot[cPu,line width=3pt,line join=round,forget plot] table[lg]{.004 -23.61\\ .01 -25.91\\ .016 -25.91\\ .024 -25.19\\ .032 -24.62\\ .041 -24.4\\ .045 -23.76\\ .049 -23.04\\ .053 -24.4\\ .057 -23.76\\ .061 -24.4\\ .069 -23.9\\ .073 -24.4\\ .089 -23.9\\ .093 -24.4\\ .101 -23.97\\ .106 -24.76\\ .13 -24.4\\ .162 -23.9\\ .195 -23.47\\ .235 -22.89\\ .276 -22.32\\ .308 -22.1\\ .337 -21.57\\ .373 -21.53\\ .394 -20.81\\ .426 -21.09\\ .455 -20.09\\ .491 -20.88\\ .511 -19.51\\ .552 -20.73\\ .572 -18.98\\ .617 -20.66\\ .639 -19.08\\ .686 -21.17\\ .704 -19.55\\ .743 -21.6\\ .763 -20.69\\ .812 -22.6\\ .836 -22.68\\ .864 -22.4\\ .869 -23.18\\ .913 -24.19\\ .917 -21.81\\ .921 -24.33\\ .929 -22.46\\ .935 -24.33\\ .942 -22.32\\ .947 -24.33\\ .962 -25.48\\ .97 -24.76\\ .978 -22.6\\ .982 -24.6\\ .998 -22.89\\ 1.002 -24.4\\ 1.015 -24.26\\ 1.071 -23.9\\ 1.153 -23.8\\ 1.248 -23.83\\ 1.266 -22.6\\ 1.27 -23.85\\ 1.329 -23.97\\ 1.337 -23.3\\ 1.341 -23.97\\ 1.411 -24.12\\ 1.492 -24.33\\ 1.573 -24.76\\ 1.614 -25.19\\ 1.638 -25.63\\ 1.663 -26.35\\ 1.687 -26.56\\ 1.728 -26.85\\ 1.76 -26.63\\ 1.801 -26.85\\ 1.874 -26.99\\ 1.98 -27.06\\ 2.061 -27.28\\ 2.142 -27.35\\ 2.224 -27.42\\ 2.305 -27.5\\ 2.386 -27.57\\ 2.5 -27.71\\};
\addlegendimage{draw=cDB}\addlegendentry{A\,\sq{1}Π − X\,\sq{1}Σ\,\sq{+}}
\addlegendimage{draw=cLG}\addlegendentry{a\,\sq{3}Π − X\,\sq{1}Σ\,\sq{+}}
\addlegendimage{draw=cYe}\addlegendentry{A\,\sq{1}Π − A\,\sq{1}Π}
\addlegendimage{draw=cRe}\addlegendentry{a\,\sq{3}Π − a\,\sq{3}Π}
\addlegendimage{draw=cPu}\addlegendentry{b\,\sq{3}Σ\,\sq{+} − a\,\sq{3}Π}
\addlegendimage{draw=cLB}\addlegendentry{X\,\sq{1}Σ\,\sq{+} − X\,\sq{1}Σ\,\sq{+}}
\addlegendimage{draw=cDG}\addlegendentry{B\,\sq{1}Σ\,\sq{+} − X\,\sq{1}Σ\,\sq{+}}
\addlegendimage{draw=cOr}\addlegendentry{B\,\sq{1}Σ\,\sq{+} − a\,\sq{3}Π}
\addlegendimage{draw=cMag}\addlegendentry{B\,\sq{1}Σ\,\sq{+} − A\,\sq{1}Π}
\end{axis}
\begin{axis}[topax,at={(152pt,653pt)},anchor=south west]
\end{axis}
% ---------- panel d
\begin{axis}[specax,ymode=log,at={(151pt,58pt)},anchor=south west,ymin=1e-26,ymax=1e-14,
  xlabel={\bfseries Wavenumber (10\sq{4} cm\sq{−1})},
  ytick={1e-14,1e-16,1e-18,1e-20,1e-22,1e-24,1e-26},
  yticklabels={10\sq{−14},10\sq{−16},10\sq{−18},10\sq{−20},10\sq{−22},10\sq{−24},10\sq{−26}},
  xlabel style={at={(axis description cs:0.5,-0.138)}},ylabel style={at={(axis description cs:-0.0917,0.5)}},
  legend cell align=left,
  legend image code/.code={\fill[sharp corners,draw=none,#1] (0pt,-0.9pt) rectangle (40pt,0.9pt);\path (51pt,0pt);},
  legend style={at={(axis description cs:0.0115,0.957)},anchor=north west,draw=none,fill=none,font=\fs{18.65},inner xsep=0pt,row sep=8pt}]
\addplot[totalstyle] table[lg]{\TotalBand};
\addplot[nb={cLB}{0.7pt}] table[lg]{.002 -18.95\\ .012 -18.95\\ .016 -19.9\\ .02 -21.5\\ .037 -21.9\\ .045 -21.2\\ .049 -20.3\\ .061 -20\\ .069 -19.6\\ .073 -20.2\\ .081 -19.87\\ .097 -19.73\\ .114 -20.01\\ .12 -20.23\\ .134 -19.8\\ .154 -19.08\\ .175 -18.79\\ .188 -19\\ .196 -19.44\\ .211 -19.22\\ .235 -18.65\\ .256 -18.26\\ .266 -18.32\\ .272 -19.22\\ .288 -18.79\\ .308 -18.36\\ .333 -17.97\\ .343 -18\\ .347 -18.72\\ .365 -18.43\\ .398 -17.86\\ .406 -18\\ .414 -18.65\\ .438 -17.93\\ .471 -17.83\\ .476 -18.5\\ .495 -18.07\\ .515 -17.93\\ .537 -18.22\\ .537 -19.52\\ .515 -20.51\\ .511 -22.36\\ .503 -27\\ .487 -27\\ .476 -24.83\\ .471 -20.26\\ .446 -20.14\\ .43 -20.51\\ .41 -20.76\\ .39 -19.65\\ .373 -19.65\\ .357 -20.14\\ .347 -24.21\\ .333 -19.65\\ .317 -19.52\\ .288 -19.65\\ .268 -20.39\\ .252 -19.28\\ .219 -19.77\\ .199 -21.37\\ .191 -21.99\\ .179 -19.89\\ .162 -20.14\\ .15 -20.51\\ .138 -21.5\\ .126 -22.11\\ .114 -21.37\\ .097 -21\\ .081 -21\\ .073 -21.93\\ .065 -21.13\\ .057 -20.63\\ .053 -21.74\\ .041 -22.36\\ .032 -23.22\\ .02 -22.11\\ .012 -21.13\\ .004 -19.4\\};
\addplot[nb={cLB}{0.7pt}] table[lg]{1.463 -19.03\\ 1.467 -18.78\\ 1.492 -18.72\\ 1.524 -19.46\\ 1.528 -18.41\\ 1.589 -19.03\\ 1.593 -18.17\\ 1.65 -18.72\\ 1.663 -17.86\\ 1.734 -18.48\\ 1.738 -17.77\\ 1.809 -18.54\\ 1.854 -19.34\\ 1.882 -19.89\\ 1.919 -20.57\\ 1.92 -22.24\\ 1.915 -22.24\\ 1.874 -21\\ 1.85 -20.14\\ 1.827 -21.87\\ 1.801 -21.13\\ 1.768 -19.77\\ 1.745 -18.54\\ 1.736 -21\\ 1.724 -21.62\\ 1.687 -20.88\\ 1.671 -21.74\\ 1.654 -20.76\\ 1.65 -21.87\\ 1.63 -21.74\\ 1.61 -20.51\\ 1.589 -20.76\\ 1.573 -20.39\\ 1.569 -21.56\\ 1.553 -20.39\\ 1.542 -20.88\\ 1.528 -27\\ 1.524 -23.59\\ 1.512 -21.5\\ 1.507 -24.7\\ 1.5 -22.48\\ 1.492 -25.32\\ 1.48 -24.21\\ 1.477 -22.36\\ 1.467 -27\\ 1.463 -27\\};
\addplot[band=cLB] table[lg]{1.916 -17.06\\ 1.927 -17\\ 1.935 -17.86\\ 1.963 -19.28\\ 1.992 -21.37\\ 1.992 -23.22\\ 1.98 -22.61\\ 1.963 -21\\ 1.939 -18.29\\ 1.927 -18.04\\ 1.92 -18.9\\ 1.919 -20.63\\};
\addplot[band=cLB] table[lg]{1.993 -15.23\\ 2 -15.23\\ 2.006 -16.26\\ 2.028 -18.04\\ 2.053 -21.74\\ 2.073 -23.22\\ 2.073 -27\\ 2.049 -27\\ 2.02 -21.13\\ 2 -18.91\\ 1.993 -18.91\\};
\addplot[band=cLB] table[lg]{2.075 -18.29\\ 2.079 -18.23\\ 2.081 -22.36\\ 2.081 -27\\ 2.075 -27\\};
\addplot[band=cLB] table[lg]{2.085 -18.66\\ 2.092 -18.48\\ 2.102 -20.88\\ 2.113 -22.61\\ 2.114 -27\\ 2.111 -27\\ 2.111 -22.8\\ 2.1 -21.13\\ 2.09 -18.72\\ 2.087 -27\\ 2.085 -27\\};
\addplot[band=cOr] table[lg]{0 -27\\ .002 -19.4\\ .0065 -19.4\\ .007 -24.7\\ .008 -23.72\\ .014 -23.72\\ .014 -27\\ .054 -27\\ .055 -20.76\\ .065 -20.57\\ .071 -21.13\\ .071 -27\\ .073 -27\\ .073 -25.32\\ .076 -25.32\\ .076 -27\\ .081 -27\\ .083 -21.62\\ .097 -21.13\\ .103 -21.62\\ .103 -27\\ .119 -27\\ .119 -23.22\\ .124 -23.22\\ .125 -24.27\\ .127 -22.24\\ .132 -22.24\\ .132 -27\\ .145 -27\\ .146 -21.99\\ .158 -21.13\\ .166 -21.44\\ .166 -27\\ .209 -27\\ .209 -21.5\\ .223 -21.13\\ .231 -21.25\\ .235 -20.86\\ .241 -20.86\\ .242 -21.13\\ .249 -21.62\\ .253 -21.62\\ .253 -27\\ .281 -27\\ .282 -22.11\\ .292 -21.99\\ .295 -21.93\\ .295 -27\\ .298 -27\\ .299 -20.63\\ .308 -20.57\\ .31 -21.07\\ .312 -21\\ .312 -27\\ .316 -27\\ .316 -20.39\\ .32 -20.39\\ .32 -27\\ .382 -27\\ .384 -18.41\\ .39 -18.17\\ .398 -17.92\\ .406 -18.17\\ .408 -20.39\\ .41 -20.39\\ .41 -27\\ .406 -27\\ .404 -20.39\\ .391 -22.85\\ .39 -27\\ .442 -27\\ .445 -18.66\\ .455 -18.17\\ .467 -17.92\\ .472 -18.91\\ .473 -20.39\\ .473 -27\\ .471 -27\\ .471 -20.51\\ .456 -20.51\\ .456 -27\\ .513 -27\\ .514 -18.66\\ .528 -18.23\\ .537 -18.48\\ .537 -27\\ .533 -27\\ .533 -21\\ .519 -23.78\\ .518 -27\\ 1.463 -27\\ 1.463 -19.22\\ 1.469 -18.97\\ 1.477 -19.4\\ 1.477 -27\\ 1.526 -27\\ 1.527 -18.72\\ 1.533 -18.48\\ 1.541 -18.78\\ 1.541 -27\\ 1.59 -27\\ 1.591 -18.48\\ 1.598 -18.23\\ 1.605 -18.48\\ 1.605 -27\\ 1.68 -27\\ 1.68 -22.11\\ 1.684 -22.11\\ 1.684 -27\\ 1.687 -27\\ 1.688 -20.39\\ 1.698 -20.39\\ 1.702 -21\\ 1.702 -27\\ 1.747 -27\\ 1.747 -21.13\\ 1.751 -21.13\\ 1.753 -20.33\\ 1.756 -20.33\\ 1.758 -21\\ 1.758 -27\\ 1.76 -27\\ 1.76 -21\\ 1.766 -21\\ 1.766 -27\\ 1.993 -27\\ 1.993 -16.01\\ 1.999 -16.01\\ 1.999 -27\\ 2.002 -27\\ 2.002 -16.38\\ 2.009 -16.5\\ 2.009 -27\\};
\addlegendimage{legend image code/.code={\fill[sharp corners,draw=none,fill=black] (0pt,-2.3pt) rectangle (40pt,2.3pt);\path (51pt,0pt);}}\addlegendentry{Total}
\addlegendimage{fill=cOr}\addlegendentry{MARVELised}
\addlegendimage{fill=cLB}\addlegendentry{MARVELised and predicted shfits}
\end{axis}
\begin{axis}[topax,at={(151pt,58pt)},anchor=south west]
\end{axis}
\node[font=\fs{18.5}] at (19,1535) {(a)};
\node[font=\fs{18.5}] at (695,1535) {(b)};
\node[font=\fs{18.5}] at (19,1006) {(c)};
\node[font=\fs{18.5}] at (19,401) {(d)};
\end{tikzpicture}
\end{document}
